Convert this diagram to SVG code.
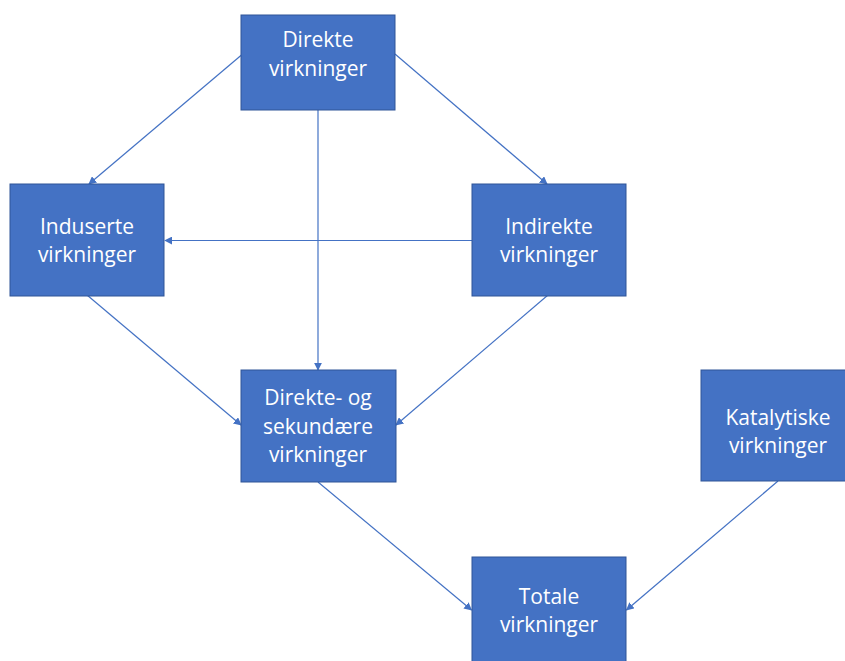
<svg xmlns="http://www.w3.org/2000/svg" width="845" height="661" viewBox="0 0 845 661">
<defs>
<style>
.box{fill:#4472C4;stroke:#2F5597;stroke-width:1}
.t{fill:#ffffff;font-family:"Open Sans","Noto Sans","Liberation Sans",sans-serif;font-size:21px;text-anchor:middle}
.c{stroke:#4472C4;stroke-width:1.2;fill:none;marker-end:url(#ah)}
</style>
<marker id="ah" viewBox="0 0 10 10" refX="9" refY="5" markerWidth="8" markerHeight="8" markerUnits="userSpaceOnUse" orient="auto">
<path d="M0,0 L10,5 L0,10 z" fill="#4472C4"/>
</marker>
</defs>
<rect width="845" height="661" fill="#ffffff"/>
<g id="connectors">
<line class="c" x1="241.5" y1="55" x2="89" y2="184"/>
<line class="c" x1="395" y1="54" x2="547" y2="184"/>
<line class="c" x1="318" y1="110" x2="318" y2="370"/>
<line class="c" x1="472" y1="240.5" x2="165" y2="240.5"/>
<line class="c" x1="87" y1="295" x2="241" y2="425"/>
<line class="c" x1="548" y1="295" x2="396" y2="425"/>
<line class="c" x1="318" y1="482" x2="471.5" y2="610"/>
<line class="c" x1="778" y1="481" x2="626.5" y2="610"/>
</g>
<g id="direkte">
<rect class="box" x="241" y="15" width="154" height="95"/>
<text class="t" x="318" y="47">Direkte</text>
<text class="t" x="318" y="76">virkninger</text>
</g>
<g id="induserte">
<rect class="box" x="10" y="184" width="154" height="112"/>
<text class="t" x="87" y="234">Induserte</text>
<text class="t" x="87" y="262">virkninger</text>
</g>
<g id="indirekte">
<rect class="box" x="472" y="184" width="154" height="112"/>
<text class="t" x="549" y="234">Indirekte</text>
<text class="t" x="549" y="262">virkninger</text>
</g>
<g id="direkte-sekundaere">
<rect class="box" x="241" y="370" width="155" height="112"/>
<text class="t" x="318" y="405">Direkte- og</text>
<text class="t" x="318" y="434">sekundære</text>
<text class="t" x="318" y="462">virkninger</text>
</g>
<g id="katalytiske">
<rect class="box" x="701" y="370" width="155" height="111"/>
<text class="t" x="778" y="425">Katalytiske</text>
<text class="t" x="778" y="453">virkninger</text>
</g>
<g id="totale">
<rect class="box" x="472" y="557" width="154" height="112"/>
<text class="t" x="549" y="604">Totale</text>
<text class="t" x="549" y="632">virkninger</text>
</g>
</svg>
